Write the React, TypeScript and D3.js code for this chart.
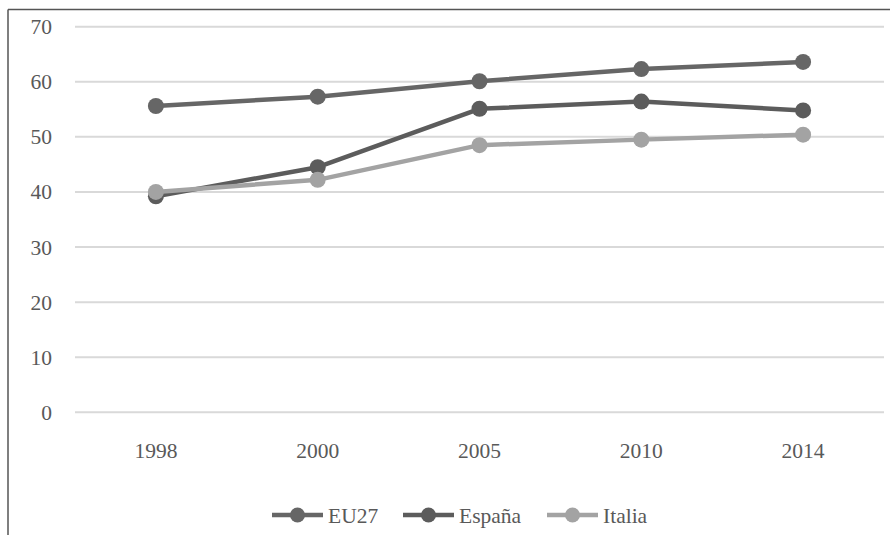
import React from "react";
import * as d3 from "d3";

const years = ["1998", "2000", "2005", "2010", "2014"];
const eu27 = [55.6, 57.3, 60.1, 62.3, 63.6];
const espana = [39.2, 44.5, 55.1, 56.4, 54.8];
const italia = [40.0, 42.2, 48.5, 49.5, 50.4];
const yTicks = [0, 10, 20, 30, 40, 50, 60, 70];

const seriesNames = ["EU27", "España", "Italia"];
const seriesColors = ["#666666", "#5c5c5c", "#a3a3a3"];

export default function App() {
  const W = 890, H = 535;
  const left = 75, right = 884, top = 26.7, bottom = 412.3;
  const x = d3.scaleBand<string>().domain(years).range([left, right]);
  const y = d3.scaleLinear().domain([0, 70]).range([bottom, top]);
  const cx = (yr: string) => (x(yr) as number) + x.bandwidth() / 2;
  const data = [eu27, espana, italia];
  const line = d3.line<number>().x((_, i) => cx(years[i])).y((v) => y(v));
  const font = "'Liberation Serif', 'Times New Roman', serif";
  const legendX = [272, 403, 547];
  const legendY = 515;
  return (
    <svg width={W} height={H} style={{ position: "absolute", left: 0, top: 0, background: "#fff" }}>
      <rect x={0} y={0} width={W} height={H} fill="#fff" />
      <line x1={8} y1={9.5} x2={W + 2} y2={9.5} stroke="#555" strokeWidth={1.5} />
      <line x1={8} y1={9.5} x2={8} y2={H + 2} stroke="#555" strokeWidth={1.5} />
      {yTicks.map((t) => (
        <g key={t}>
          <line x1={left} x2={right} y1={y(t)} y2={y(t)} stroke="#d9d9d9" strokeWidth={2} />
          <text x={52} y={y(t)} dy="0.35em" textAnchor="end" fontFamily={font} fontSize={21.5} fill="#595959">{t}</text>
        </g>
      ))}
      {years.map((yr) => (
        <text key={yr} x={cx(yr)} y={458} textAnchor="middle" fontFamily={font} fontSize={21.5} fill="#595959">{yr}</text>
      ))}
      {data.map((s, si) => (
        <g key={si}>
          <path d={line(s) || ""} fill="none" stroke={seriesColors[si]} strokeWidth={4.5} strokeLinejoin="round" />
          {s.map((v, i) => (
            <circle key={i} cx={cx(years[i])} cy={y(v)} r={8} fill={seriesColors[si]} />
          ))}
        </g>
      ))}
      {seriesNames.map((n, i) => (
        <g key={n}>
          <line x1={legendX[i]} x2={legendX[i] + 51} y1={legendY} y2={legendY} stroke={seriesColors[i]} strokeWidth={4.5} />
          <circle cx={legendX[i] + 25.5} cy={legendY} r={7.5} fill={seriesColors[i]} />
          <text x={legendX[i] + 56} y={legendY} dy="0.35em" fontFamily={font} fontSize={21.5} fill="#595959">{n}</text>
        </g>
      ))}
    </svg>
  );
}
